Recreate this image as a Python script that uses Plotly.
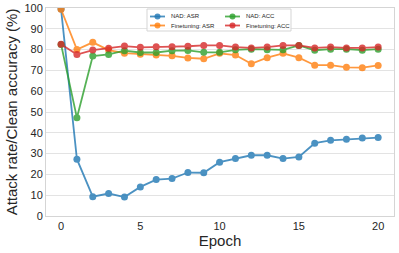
import plotly.graph_objects as go

epochs = list(range(21))
nad_asr = [99.5, 27.3, 9.3, 10.8, 9.1, 14.0, 17.5, 18.0, 20.9, 20.8, 25.9, 27.6, 29.2, 29.2, 27.6, 28.4, 35.0, 36.4, 36.9, 37.5, 37.7]
ft_asr = [99.4, 80.0, 83.5, 79.8, 78.3, 77.8, 77.4, 77.0, 76.0, 75.6, 78.2, 77.4, 73.2, 76.1, 78.2, 76.1, 72.5, 72.5, 71.5, 71.3, 72.4]
nad_acc = [82.5, 47.2, 76.9, 77.7, 79.5, 78.6, 78.6, 79.5, 79.6, 78.7, 78.7, 79.9, 80.2, 79.9, 79.9, 82.0, 79.7, 80.2, 80.2, 79.7, 80.2]
ft_acc = [82.6, 77.6, 79.8, 80.7, 81.7, 81.1, 81.4, 81.4, 81.6, 82.0, 82.0, 81.2, 80.8, 81.2, 82.0, 82.0, 80.8, 81.2, 80.8, 80.8, 81.2]

series_names = ["NAD: ASR", "Finetuning: ASR", "NAD: ACC", "Finetuning: ACC"]
series_values = [nad_asr, ft_asr, nad_acc, ft_acc]
series_colors = ["#1f77b4", "#ff7f0e", "#2ca02c", "#d62728"]
x_ticks = [0, 5, 10, 15, 20]
y_ticks = list(range(0, 101, 10))

W, H = 399, 253
L, R, T, B = 46, 5, 8, 37
PW, PH = W - L - R, H - T - B


def px(x):
    return (x - L) / PW


def py(y):
    return (H - B - y) / PH


fig = go.Figure()
for name, vals, color in zip(series_names, series_values, series_colors):
    fig.add_trace(go.Scatter(
        x=epochs, y=vals, name=name, mode="lines+markers",
        line=dict(color=color, width=1.8),
        marker=dict(color=color, size=7),
        opacity=0.8, showlegend=False,
    ))

# legend drawn as a two-column box (matplotlib-style)
shapes = [dict(type="rect", xref="paper", yref="paper",
               x0=px(147), x1=px(291), y0=py(9), y1=py(31),
               line=dict(color="#d5d5d5", width=1), fillcolor="rgba(255,255,255,0.8)",
               layer="above")]
annotations = []
slots = [(150, 16.5), (150, 25.5), (225, 16.5), (225, 25.5)]
for (sx, sy), name, color in zip(slots, series_names, series_colors):
    shapes.append(dict(type="line", xref="paper", yref="paper",
                       x0=px(sx), x1=px(sx + 15), y0=py(sy), y1=py(sy),
                       line=dict(color=color, width=1.8), opacity=0.8, layer="above"))
    shapes.append(dict(type="circle", xref="paper", yref="paper",
                       x0=px(sx + 4.5), x1=px(sx + 10.5), y0=py(sy - 3), y1=py(sy + 3),
                       line=dict(color=color, width=0), fillcolor=color, opacity=0.8,
                       layer="above"))
    annotations.append(dict(xref="paper", yref="paper", x=px(sx + 19), y=py(sy),
                            xanchor="left", yanchor="middle", text=name, showarrow=False,
                            font=dict(size=6, color="#262626")))

fig.update_layout(
    width=W, height=H,
    margin=dict(l=L, r=R, t=T, b=B),
    paper_bgcolor="white", plot_bgcolor="white",
    font=dict(family="Liberation Sans, Arial, sans-serif", color="#262626"),
    showlegend=False, hovermode=False,
    shapes=shapes, annotations=annotations,
)
fig.update_xaxes(
    range=[-0.95, 21], tickvals=x_ticks,
    showgrid=False, zeroline=False,
    showline=True, linecolor="#d5d5d5", linewidth=1, mirror=True,
    tickfont=dict(size=11), ticks="",
    title=dict(text="Epoch", font=dict(size=15), standoff=2),
    automargin=False,
)
fig.update_yaxes(
    range=[0, 100], tickvals=y_ticks,
    showgrid=True, gridcolor="#e3e3e3", gridwidth=1, zeroline=False,
    showline=True, linecolor="#d5d5d5", linewidth=1, mirror=True,
    tickfont=dict(size=11), ticks="",
    title=dict(text="Attack rate/Clean accuracy (%)", font=dict(size=15), standoff=3),
    automargin=False,
)

fig.write_html("out.html", config={"displayModeBar": False},
               post_script="document.body.style.margin='0px';")
